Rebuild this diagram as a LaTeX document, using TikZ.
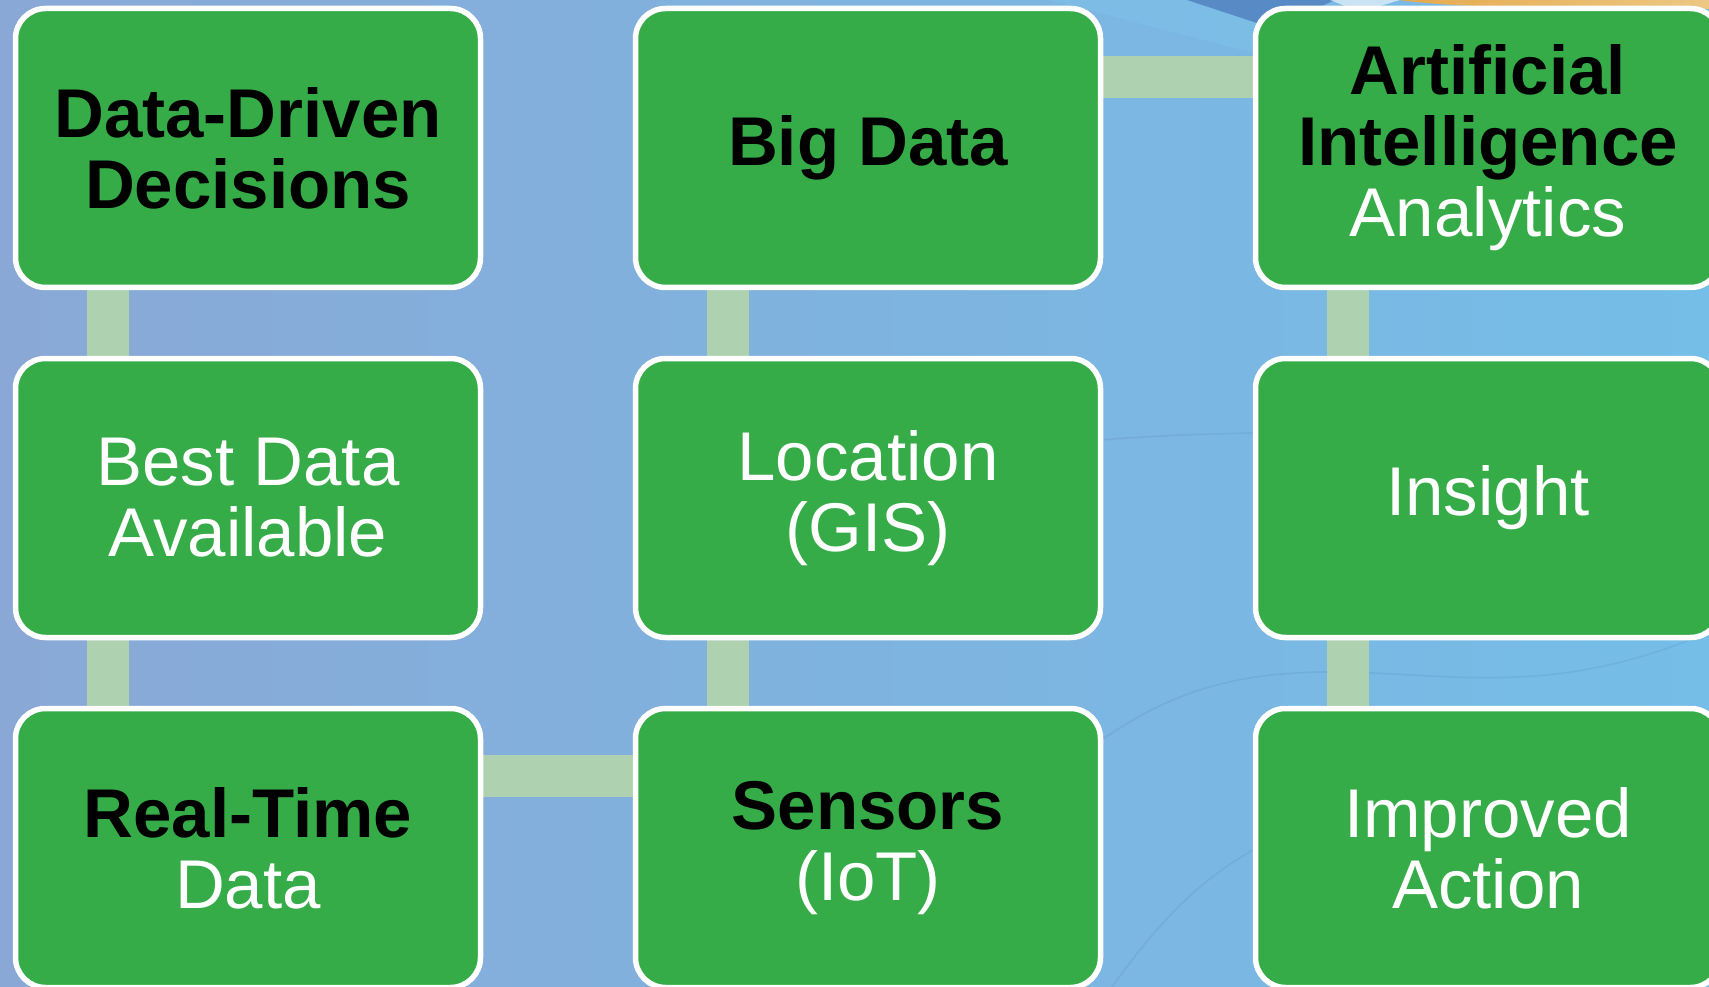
\documentclass[tikz,border=0pt]{standalone}
\usepackage{fontspec}
\setmainfont{Liberation Sans}
\usetikzlibrary{calc}

\definecolor{boxgreen}{RGB}{54,172,72}
\definecolor{linkgreen}{RGB}{174,210,176}
\definecolor{bgleft}{RGB}{138,168,214}
\definecolor{bgmid}{RGB}{114,172,218}
\definecolor{bgright}{RGB}{116,190,232}
\definecolor{swooshdark}{RGB}{88,138,198}
\definecolor{swooshlight}{RGB}{128,196,234}
\definecolor{swooshorange}{RGB}{230,170,80}
\definecolor{swooshsand}{RGB}{236,200,130}

\pgfdeclarelayer{bg}
\pgfdeclarelayer{links}
\pgfsetlayers{bg,links,main}

\newcommand\keyterm[1]{{\bfseries\color{black}#1}}

\tikzset{
  stage/.style={draw=white, line width=5.5pt, fill=boxgreen,
    rounded corners=30pt, minimum width=465pt, minimum height=279pt,
    inner sep=0pt, align=center, text=white,
    font=\fontsize{69}{71}\selectfont},
  link/.style={draw=linkgreen, line width=42pt},
  faint/.style={draw=black!60!blue, opacity=0.06, line width=1.6pt},
}

\begin{document}
\begin{tikzpicture}[x=1pt, y=-1pt]
\useasboundingbox (0,0) rectangle (1709,987);

% backdrop
\begin{pgfonlayer}{bg}
  \shade[left color=bgleft, middle color=bgmid, right color=bgright]
    (0,0) rectangle (1709,987);
  \fill[swooshlight, opacity=0.45] (1050,0) -- (1265,56) -- (1265,0) -- cycle;
  \fill[swooshdark] (1187,0) -- (1272,28) -- (1335,0) -- cycle;
  \fill[white, opacity=0.6] (1330,0) -- (1400,0) -- (1360,12) -- cycle;
  \shade[left color=swooshorange, right color=swooshsand]
    (1398,0) -- (1709,0) -- (1709,9) .. controls (1550,9) and (1460,8) .. (1398,0) -- cycle;
  \draw[faint] (1100,741) .. controls (1160,700) and (1220,672) .. (1330,672)
    .. controls (1450,672) and (1550,700) .. (1709,632);
  \draw[faint] (1112,987) .. controls (1160,920) and (1200,880) .. (1253,850);
  \draw[faint] (1100,440) .. controls (1150,436) and (1200,434) .. (1253,433);
\end{pgfonlayer}

% stages
\node[stage] (dd) at (248,148) {\keyterm{Data-Driven}\\\keyterm{Decisions}};
\node[stage] (bd) at (248,498) {Best Data\\Available};
\node[stage] (rt) at (248,848) {\keyterm{Real-Time}\\Data};
\node[stage] (big) at (868,148) {\keyterm{Big Data}};
\node[stage] (gis) at (868,498) {Location\\(GIS)};
\node[stage] (iot) at (868,848) {\keyterm{Sensors}\\(IoT)};
\node[stage] (ai) at (1488,148) {\keyterm{Artificial}\\\keyterm{Intelligence}\\Analytics};
\node[stage] (ins) at (1488,498) {Insight};
\node[stage] (act) at (1488,848) {Improved\\Action};

% connecting bars
\begin{pgfonlayer}{links}
  \draw[link] ([xshift=-140pt]dd.center) -- ([xshift=-140pt]bd.center);
  \draw[link] ([xshift=-140pt]bd.center) -- ([xshift=-140pt]rt.center);
  \draw[link] ([yshift=72pt]rt.center) -- ([yshift=72pt]iot.center);
  \draw[link] ([xshift=-140pt]iot.center) -- ([xshift=-140pt]gis.center);
  \draw[link] ([xshift=-140pt]gis.center) -- ([xshift=-140pt]big.center);
  \draw[link] ([yshift=71pt]big.center) -- ([yshift=71pt]ai.center);
  \draw[link] ([xshift=-140pt]ai.center) -- ([xshift=-140pt]ins.center);
  \draw[link] ([xshift=-140pt]ins.center) -- ([xshift=-140pt]act.center);
\end{pgfonlayer}
\end{tikzpicture}
\end{document}
